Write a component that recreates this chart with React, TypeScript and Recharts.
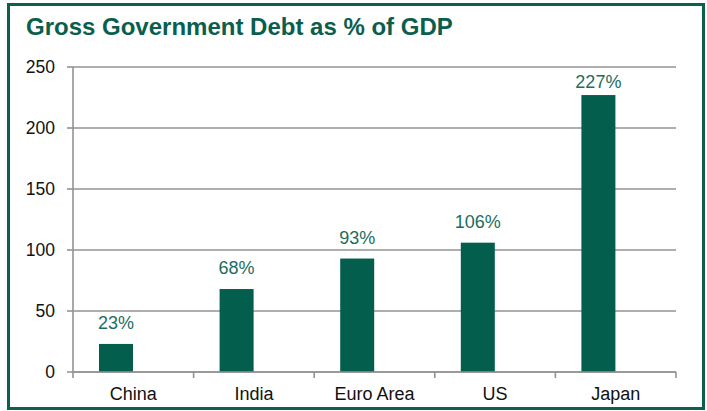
import React from "react";
import {
  BarChart,
  Bar,
  XAxis,
  YAxis,
  CartesianGrid,
  LabelList,
} from "recharts";

const countries = ["China", "India", "Euro Area", "US", "Japan"];
const debtPct = [23, 68, 93, 106, 227];
const yTicks = [0, 50, 100, 150, 200, 250];

const data = countries.map((name, i) => ({ name, debt: debtPct[i] }));

const W = 707;
const H = 411;
const MARGIN = { top: 67, right: 31, bottom: 0, left: 13 };
const Y_AXIS_W = 60;
const X_AXIS_H = 39;
const BAND = (W - MARGIN.left - MARGIN.right - Y_AXIS_W) / countries.length;

const GREEN = "#045e4d";
const LABEL_GREEN = "#1b6e5d";
const GRID = "#939393";
const FONT = "'Liberation Sans', Arial, sans-serif";

// Excel leaves room for an empty second series, so bars sit left of centre
const ShiftedBar = (p: any) => (
  <rect x={p.x - p.width / 2} y={p.y} width={p.width} height={p.height} fill={GREEN} />
);

const ValueLabel = (p: any) => {
  const top = Math.max(p.y - 15, MARGIN.top + 21);
  return (
    <text
      x={p.x}
      y={top}
      textAnchor="middle"
      fill={LABEL_GREEN}
      fontSize={18}
      fontFamily={FONT}
    >
      {p.value}%
    </text>
  );
};

const CategoryTick = (p: any) => {
  const left = p.x - BAND / 2;
  const isLast = p.index === countries.length - 1;
  return (
    <g>
      <line x1={left} y1={p.y} x2={left} y2={p.y + 6} stroke={GRID} strokeWidth={1.6} />
      {isLast && (
        <line x1={left + BAND} y1={p.y} x2={left + BAND} y2={p.y + 6} stroke={GRID} strokeWidth={1.6} />
      )}
      <text x={p.x} y={p.y + 28} textAnchor="middle" fill="#111" fontSize={18} fontFamily={FONT}>
        {p.payload.value}
      </text>
    </g>
  );
};

export default function App() {
  return (
    <div
      style={{
        position: "absolute",
        left: 0,
        top: 0,
        width: W,
        height: H,
        background: "#fff",
        fontFamily: FONT,
      }}
    >
      <div
        style={{
          position: "absolute",
          left: 7,
          top: 3,
          width: 692,
          height: 401,
          border: "3px solid #0b6150",
        }}
      />
      <div
        style={{
          position: "absolute",
          left: 26,
          top: 15,
          fontSize: 24,
          lineHeight: "24px",
          fontWeight: 700,
          color: "#0a5e4d",
          whiteSpace: "nowrap",
        }}
      >
        Gross Government Debt as % of GDP
      </div>
      <div style={{ position: "absolute", left: 0, top: 0 }}>
        <BarChart width={W} height={H} data={data} margin={MARGIN}>
          <CartesianGrid vertical={false} stroke={GRID} strokeWidth={1.6} />
          <XAxis
            dataKey="name"
            height={X_AXIS_H}
            axisLine={{ stroke: GRID, strokeWidth: 1.6 }}
            tickLine={false}
            tickSize={0}
            tickMargin={0}
            interval={0}
            tick={<CategoryTick />}
          />
          <YAxis
            width={Y_AXIS_W}
            domain={[0, 250]}
            ticks={yTicks}
            interval={0}
            axisLine={{ stroke: GRID, strokeWidth: 1.6 }}
            tickLine={{ stroke: GRID, strokeWidth: 1.6 }}
            tickSize={6}
            tickMargin={12}
            tick={{ fill: "#111", fontSize: 17.5, fontFamily: FONT }}
          />
          <Bar
            dataKey="debt"
            barSize={34}
            shape={<ShiftedBar />}
            isAnimationActive={false}
          >
            <LabelList dataKey="debt" content={<ValueLabel />} />
          </Bar>
        </BarChart>
      </div>
    </div>
  );
}
